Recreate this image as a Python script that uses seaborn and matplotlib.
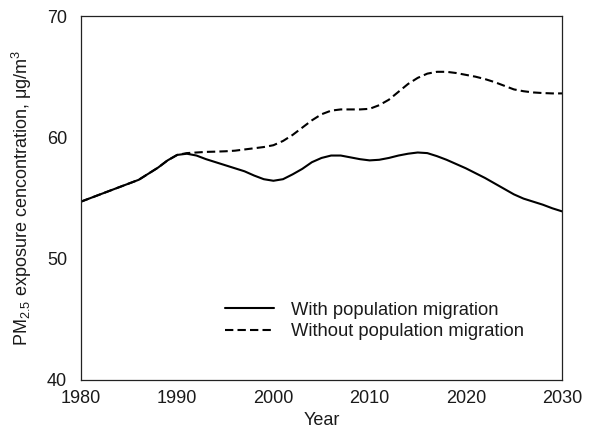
import numpy as np
import pandas as pd
import matplotlib
matplotlib.use("Agg")
import matplotlib.pyplot as plt
import seaborn as sns

# Annual PM2.5 exposure (ug/m3), 1980-2030
years = list(range(1980, 2031))

with_migration = [
    54.7, 55.0, 55.3, 55.6, 55.9, 56.2, 56.5, 57.0, 57.5, 58.1,
    58.55, 58.65, 58.5, 58.2, 57.95, 57.7, 57.45, 57.2, 56.85, 56.55,
    56.42, 56.55, 56.95, 57.4, 57.95, 58.3, 58.5, 58.5, 58.35, 58.2,
    58.1, 58.15, 58.3, 58.5, 58.65, 58.75, 58.7, 58.45, 58.15, 57.8,
    57.45, 57.05, 56.65, 56.2, 55.75, 55.3, 54.95, 54.7, 54.45, 54.15,
    53.9,
]

without_migration = [
    54.7, 55.0, 55.3, 55.6, 55.9, 56.2, 56.5, 57.0, 57.5, 58.1,
    58.55, 58.7, 58.75, 58.8, 58.82, 58.85, 58.9, 59.0, 59.1, 59.2,
    59.35, 59.7, 60.2, 60.8, 61.4, 61.9, 62.2, 62.3, 62.3, 62.3,
    62.35, 62.65, 63.1, 63.75, 64.4, 64.9, 65.25, 65.4, 65.4, 65.3,
    65.15, 65.0, 64.8, 64.55, 64.25, 63.95, 63.8, 63.7, 63.65, 63.62,
    63.62,
]

series_names = ["With population migration", "Without population migration"]
x_ticks = [1980, 1990, 2000, 2010, 2020, 2030]
y_ticks = [40, 50, 60, 70]

df = pd.DataFrame({
    "Year": years * 2,
    "PM25": with_migration + without_migration,
    "Scenario": [series_names[0]] * len(years) + [series_names[1]] * len(years),
})

sns.set_theme(style="white")
plt.rcParams["font.family"] = ["Liberation Sans", "DejaVu Sans"]
plt.rcParams["mathtext.fontset"] = "custom"
plt.rcParams["mathtext.rm"] = "Liberation Sans"
plt.rcParams["mathtext.it"] = "Liberation Sans:italic"
plt.rcParams["text.color"] = "#1a1a1a"
plt.rcParams["axes.labelcolor"] = "#1a1a1a"

fig = plt.figure(figsize=(5.97, 4.34), dpi=100)
ax = fig.add_axes([81 / 597, 54 / 434, 481 / 597, 364 / 434])

sns.lineplot(
    data=df, x="Year", y="PM25", style="Scenario",
    style_order=series_names,
    dashes={series_names[0]: "", series_names[1]: (4, 2)},
    color="black", linewidth=1.5, ax=ax, legend=False,
)

ax.set_xlim(1980, 2030)
ax.set_ylim(40, 70)
ax.set_xticks(x_ticks)
ax.set_yticks(y_ticks)
ax.tick_params(axis="both", length=0, labelsize=13, colors="#1a1a1a")
ax.tick_params(axis="y", pad=10)
ax.tick_params(axis="x", pad=7)

for sp in ax.spines.values():
    sp.set_visible(True)
    sp.set_color("#222222")
    sp.set_linewidth(0.9)

ax.set_xlabel("Year", fontsize=13, labelpad=4)
ax.set_ylabel(r"PM$_\mathregular{2.5}$ exposure cencontration, μg/m$^\mathregular{3}$",
              fontsize=13, labelpad=9)

lines = ax.get_lines()
ax.legend(
    handles=lines[:2], labels=series_names,
    loc="center left", bbox_to_anchor=(0.266, 0.162),
    frameon=False, fontsize=13.2, handlelength=2.65,
    handletextpad=0.9, labelspacing=0.25,
)

fig.savefig("out.png", dpi=100)
